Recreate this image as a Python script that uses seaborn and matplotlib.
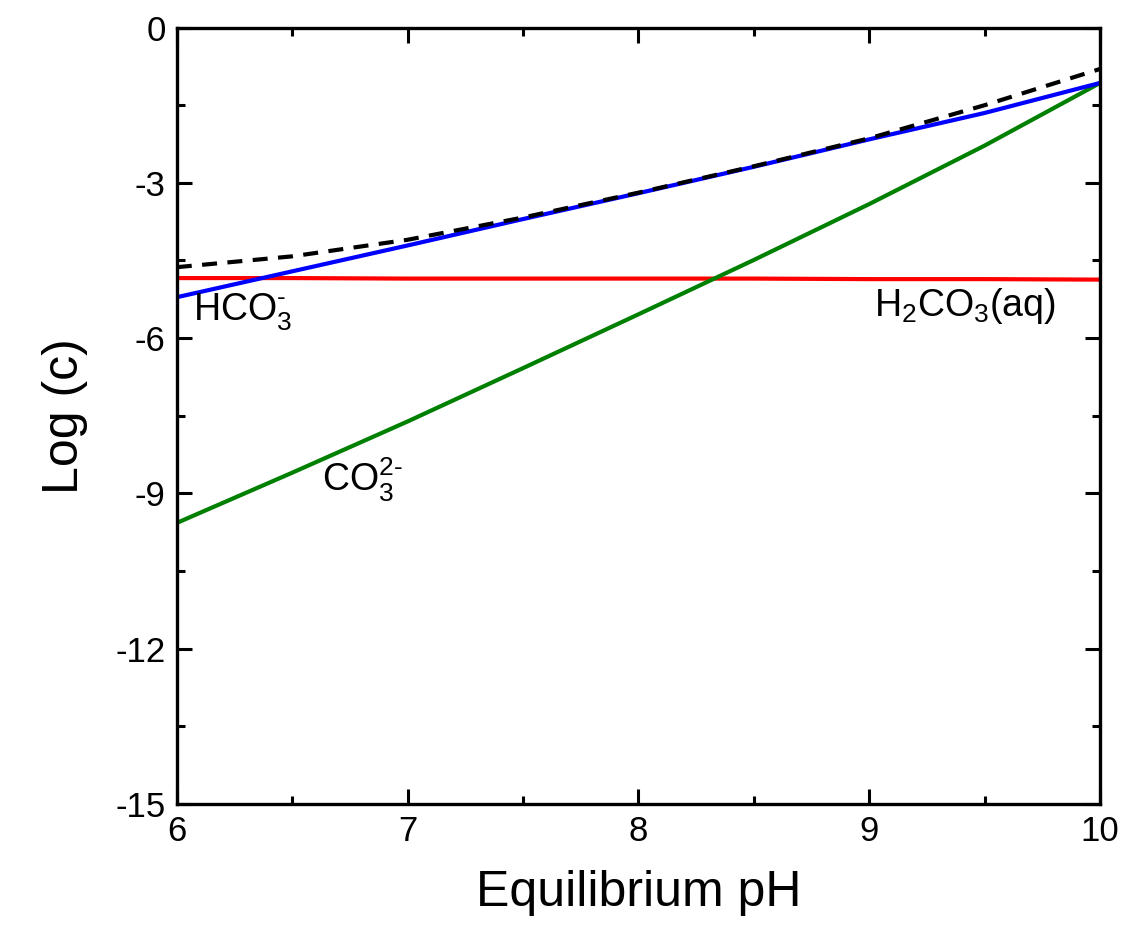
import numpy as np
import pandas as pd
import matplotlib
matplotlib.use("Agg")
import matplotlib.pyplot as plt
import seaborn as sns
from matplotlib.ticker import MultipleLocator

# Data
ph = [6.0, 6.5, 7.0, 7.5, 8.0, 8.5, 9.0, 9.5, 10.0]
log_h2co3 = [-4.84, -4.84, -4.85, -4.85, -4.85, -4.85, -4.86, -4.86, -4.87]
log_hco3 = [-5.21, -4.71, -4.21, -3.70, -3.20, -2.69, -2.16, -1.65, -1.07]
log_co3 = [-9.57, -8.60, -7.61, -6.58, -5.54, -4.49, -3.41, -2.28, -1.07]
log_total = [-4.63, -4.42, -4.10, -3.67, -3.19, -2.68, -2.14, -1.50, -0.80]

x_ticks = [6, 7, 8, 9, 10]
y_ticks = [0, -3, -6, -9, -12, -15]

sns.set_theme(style="ticks")
plt.rcParams["font.family"] = ["Liberation Sans", "DejaVu Sans"]
plt.rcParams["mathtext.fontset"] = "custom"
plt.rcParams["mathtext.rm"] = "Liberation Sans"
plt.rcParams["mathtext.it"] = "Liberation Sans:italic"
plt.rcParams["text.color"] = "black"
plt.rcParams["axes.labelcolor"] = "black"
plt.rcParams["xtick.color"] = "black"
plt.rcParams["ytick.color"] = "black"

df = pd.DataFrame({"pH": ph, "H2CO3": log_h2co3, "HCO3": log_hco3,
                   "CO3": log_co3, "Total": log_total})

fig = plt.figure(figsize=(11.26, 9.43), dpi=100)
ax = fig.add_axes([0.157, 0.1474, 0.820, 0.8234])

lw = 3.0
sns.lineplot(data=df, x="pH", y="H2CO3", ax=ax, color="#ff0000", lw=lw)
sns.lineplot(data=df, x="pH", y="CO3", ax=ax, color="#008000", lw=lw)
sns.lineplot(data=df, x="pH", y="HCO3", ax=ax, color="#0000ff", lw=lw)
sns.lineplot(data=df, x="pH", y="Total", ax=ax, color="black", lw=lw,
             linestyle=(0, (3.6, 2.5)))

ax.set_xlim(6, 10)
ax.set_ylim(-15, 0)
ax.set_xticks(x_ticks)
ax.set_yticks(y_ticks)
ax.set_xticklabels([str(v) for v in x_ticks])
ax.set_yticklabels([str(v) for v in y_ticks])
ax.xaxis.set_minor_locator(MultipleLocator(0.5))
ax.yaxis.set_minor_locator(MultipleLocator(1.5))

ax.tick_params(which="major", direction="in", length=11, width=2.2,
               top=True, right=True, labelsize=25, pad=8, color="black",
               labelcolor="black")
ax.tick_params(which="minor", direction="in", length=5.5, width=2.2,
               top=True, right=True, color="black")
for s in ax.spines.values():
    s.set_visible(True)
    s.set_linewidth(2.4)
    s.set_color("black")

ax.set_xlabel("Equilibrium pH", fontsize=36, labelpad=16, color="black")
ax.set_ylabel("Log (c)", fontsize=36, labelpad=20, color="black")

ax.text(6.07, -5.50, "HCO$_3^{\u2010}$", fontsize=27, va="center", ha="left")
ax.text(9.02, -5.38, "H$_2$CO$_3$(aq)", fontsize=27, va="center", ha="left")
ax.text(6.63, -8.74, "CO$_3^{2\u2010}$", fontsize=27, va="center", ha="left")

fig.savefig("out.png", dpi=100)
